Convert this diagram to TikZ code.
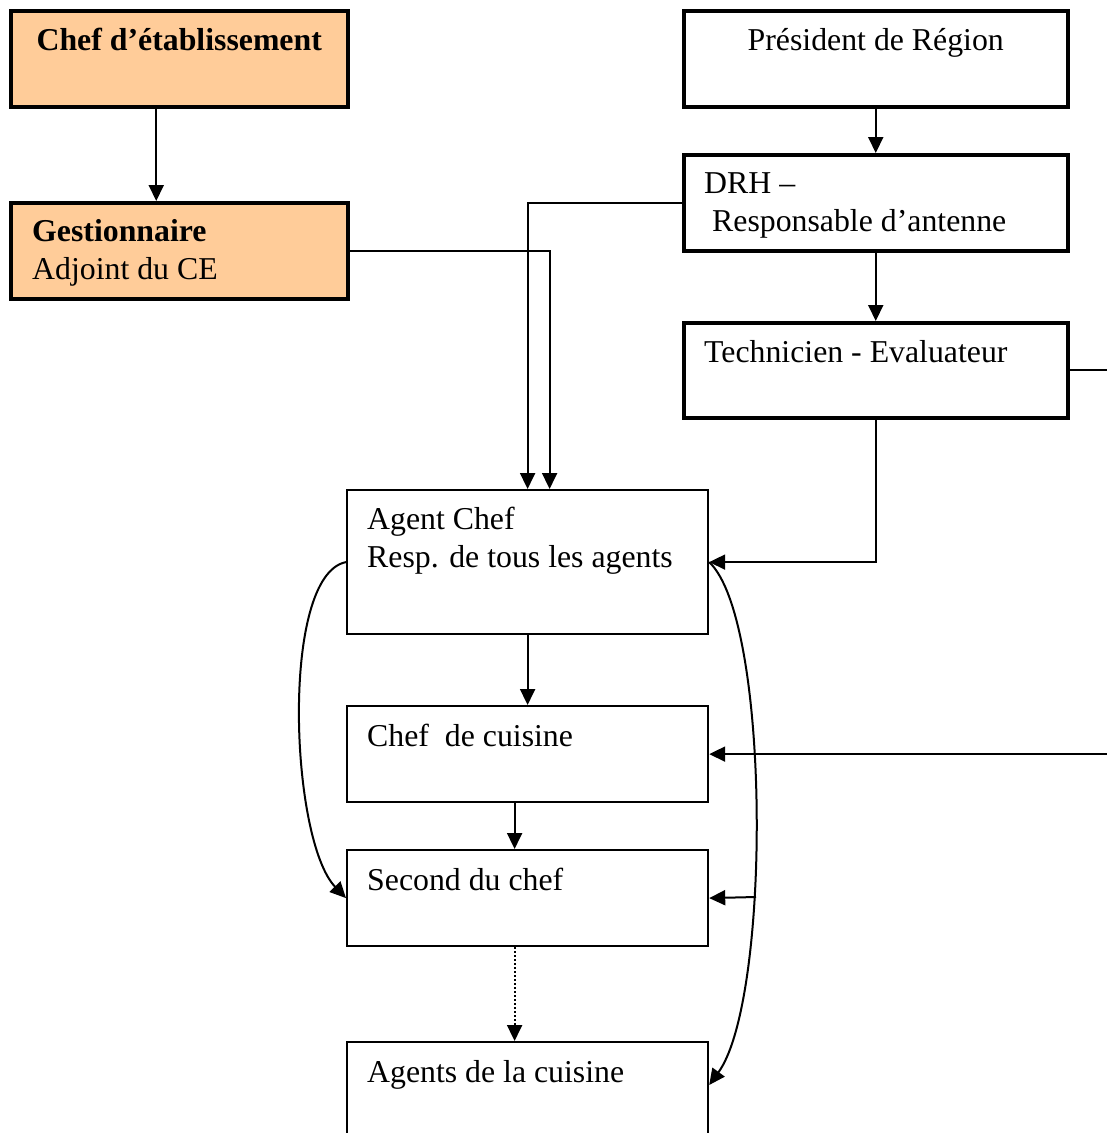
\documentclass[tikz,border=0pt]{standalone}
\usepackage{fontspec}
\setmainfont{Liberation Serif}
\usetikzlibrary{arrows.meta,positioning}
\definecolor{orangeclair}{HTML}{FFCC99}

\begin{document}
\begin{tikzpicture}[x=1pt,y=-1pt]
      \tikzstyle{cadre}=[rectangle,draw,anchor=north west,inner sep=0pt,line width=2.2pt]
      \tikzstyle{haut}=[cadre,line width=3.5pt]
      \tikzstyle{direction}=[haut,fill=orangeclair]
      \tikzstyle{texte}=[anchor=base west,inner sep=0pt,align=left,font=\fontsize{31.8}{38}\selectfont]
      \tikzstyle{fleche}=[line width=2pt,-{Triangle[length=16pt,width=15pt]}]
      \useasboundingbox (0,0) rectangle (1107,1133);
      \clip (0,0) rectangle (1107,1133);
      % cadres
      \node[direction,minimum width=337pt,minimum height=96pt] (chef) at (9,9) {};
      \node[direction,minimum width=337pt,minimum height=96pt] (gest) at (9,201) {};
      \node[haut,minimum width=384pt,minimum height=96pt] (pres) at (682,9) {};
      \node[haut,minimum width=384pt,minimum height=96pt] (drh) at (682,153) {};
      \node[haut,minimum width=384pt,minimum height=95pt] (tech) at (682,321) {};
      \node[cadre,minimum width=361pt,minimum height=144pt] (agentchef) at (346,489) {};
      \node[cadre,minimum width=361pt,minimum height=96pt] (cuisinier) at (346,705) {};
      \node[cadre,minimum width=361pt,minimum height=96pt] (second) at (346,849) {};
      \node[cadre,minimum width=361pt,minimum height=150pt] (agents) at (346,1041) {};
      % textes (base = derniere ligne)
      \node[texte,anchor=base] (chef-t) at ([yshift=-41pt]chef.north) {\textbf{Chef d’établissement}};
      \node[texte] (gest-t) at ([xshift=23pt,yshift=-78pt]gest.north west) {\textbf{Gestionnaire}\\Adjoint du CE};
      \node[texte,anchor=base] (pres-t) at ([yshift=-41pt]pres.north) {Président de Région};
      \node[texte] (drh-t) at ([xshift=22pt,yshift=-78pt]drh.north west) {DRH –\\\hspace*{8pt}Responsable d’antenne};
      \node[texte] (tech-t) at ([xshift=22pt,yshift=-41pt]tech.north west) {Technicien - Evaluateur};
      \node[texte] (agentchef-t) at ([xshift=21pt,yshift=-78pt]agentchef.north west) {Agent Chef\\Resp. de tous les agents};
      \node[texte] (cuisinier-t) at ([xshift=21pt,yshift=-41pt]cuisinier.north west) {Chef~~de cuisine};
      \node[texte] (second-t) at ([xshift=21pt,yshift=-41pt]second.north west) {Second du chef};
      \node[texte] (agents-t) at ([xshift=21pt,yshift=-41pt]agents.north west) {Agents de la cuisine};
      % liaisons
      \draw[fleche] ([xshift=-23pt]chef.south) -- ([xshift=-23pt]gest.north);
      \draw[fleche] (pres) -- (drh);
      \draw[fleche] (drh) -- (tech);
      \draw[fleche] (drh.west) -| (agentchef.north);
      \draw[fleche] (gest.east) -| ([xshift=22pt]agentchef.north);
      \draw[fleche] (tech.south) |- (agentchef.east);
      \draw[fleche] (tech.east) -- ++(60,0) |- (cuisinier.east);
      \draw[fleche] (agentchef) -- (cuisinier);
      \draw[fleche] ([xshift=-13pt]cuisinier.south) -- ([xshift=-13pt]second.north);
      \draw[fleche,dash pattern=on 2pt off 2pt] ([xshift=-13pt]second.south) -- ([xshift=-13pt]agents.north);
      \draw[fleche] (agentchef.west) .. controls (280,575) and (290,840) .. (second.west);
      \draw[fleche] (agentchef.east) .. controls (771,620) and (771,1000) .. ([yshift=-44pt]agents.north east);
      \coordinate (courbe) at (756,897);
      \draw[fleche] (courbe) -- (second.east);
\end{tikzpicture}
\end{document}
